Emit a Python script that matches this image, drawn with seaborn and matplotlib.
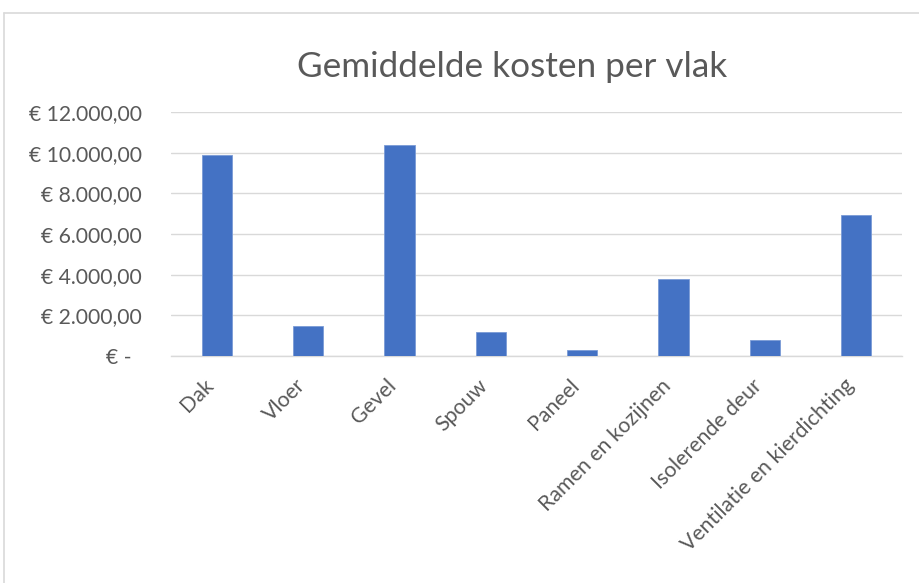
import matplotlib
matplotlib.use("Agg")
import matplotlib.pyplot as plt
import seaborn as sns
import pandas as pd
from matplotlib.ticker import FuncFormatter
from matplotlib.lines import Line2D
from matplotlib.transforms import ScaledTranslation

categories = ["Dak", "Vloer", "Gevel", "Spouw", "Paneel", "Ramen en kozijnen",
              "Isolerende deur", "Ventilatie en kierdichting"]
values = [9900, 1500, 10360, 1200, 310, 3770, 800, 6920]
title = "Gemiddelde kosten per vlak"

sns.set_theme(style="white")
plt.rcParams['font.family'] = ['Lato', 'DejaVu Sans']

df = pd.DataFrame({"cat": categories, "val": values})

fig = plt.figure(figsize=(9.19, 5.83), dpi=100)
ax = fig.add_axes([171/919, 1-356/583, (902-171)/919, (356-112)/583])

sns.barplot(data=df, x="cat", y="val", color="#4472C4", width=0.33, ax=ax,
            saturation=1, edgecolor="#7A9BD6", linewidth=0.6, zorder=3)

ax.set_ylim(0, 12000)
ax.set_xlim(-0.5, len(categories) - 0.5)
ax.set_yticks(range(0, 12001, 2000))

def fmt(v, pos):
    if v == 0:
        return "€ -  "
    s = f"{int(v):,}".replace(",", ".")
    return f"€ {s},00"
ax.yaxis.set_major_formatter(FuncFormatter(fmt))

ax.grid(axis="y", color="#D9D9D9", linewidth=1, zorder=0)
ax.grid(axis="x", visible=False)
for s in ["top", "right", "left"]:
    ax.spines[s].set_visible(False)
ax.spines["bottom"].set_color("#D9D9D9")
ax.spines["bottom"].set_linewidth(1)

ax.tick_params(axis="y", length=0, pad=21, labelsize=15.2, labelcolor="#595959")
ax.tick_params(axis="x", length=0, pad=14, labelsize=15.3, labelcolor="#595959")
shift = ScaledTranslation(-13/100, 0, fig.dpi_scale_trans)
for lab in ax.get_xticklabels():
    lab.set_rotation(45)
    lab.set_ha("right")
    lab.set_va("top")
    lab.set_rotation_mode("anchor")
    lab.set_transform(lab.get_transform() + shift)
for lab in ax.get_yticklabels():
    lab.set_ha("right")

ax.set_xlabel("")
ax.set_ylabel("")

fig.text(512/919, 1-67/583, title, ha="center", va="center", fontsize=25.3, color="#595959")

# chart border (left and top visible)
fig.add_artist(Line2D([4/919, 4/919], [0, 1-13/583], transform=fig.transFigure, color="#D9D9D9", lw=1.2))
fig.add_artist(Line2D([4/919, 1], [1-13/583, 1-13/583], transform=fig.transFigure, color="#D9D9D9", lw=1.2))

fig.savefig("out.png", dpi=100)
